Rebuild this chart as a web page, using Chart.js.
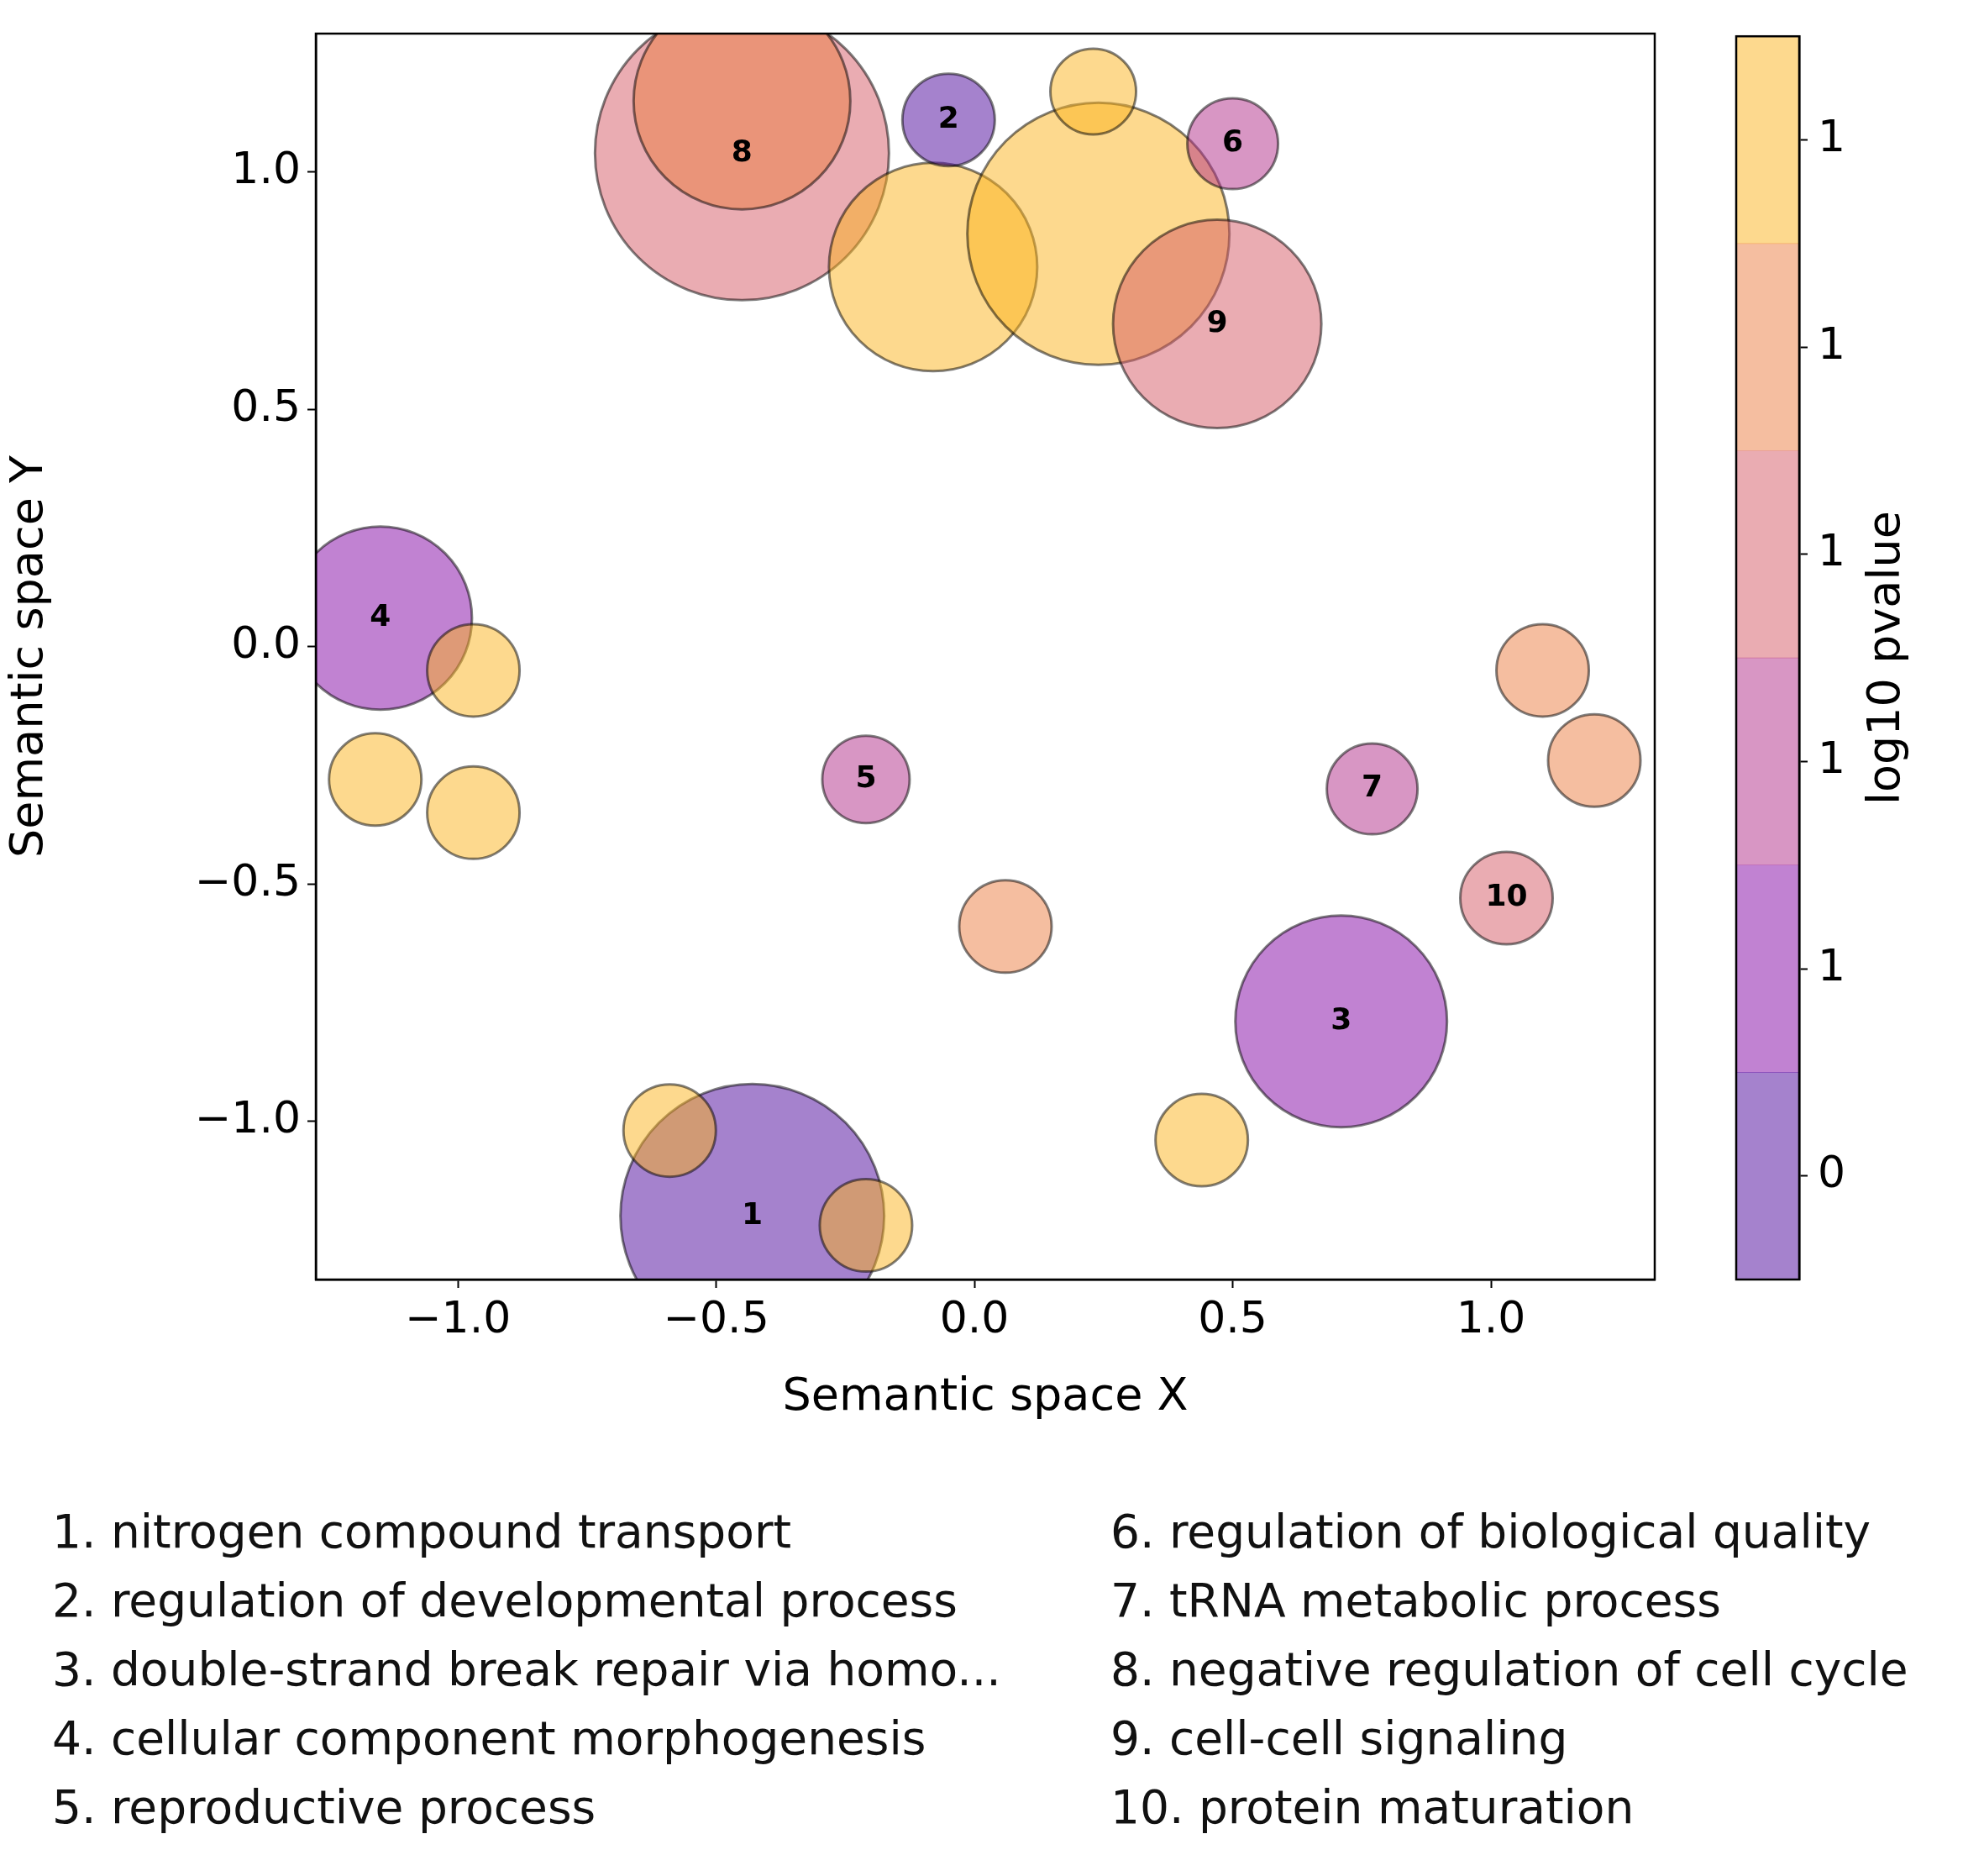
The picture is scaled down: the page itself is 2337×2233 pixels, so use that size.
<!DOCTYPE html>
<html><head><meta charset="utf-8">
<script src="https://cdn.jsdelivr.net/npm/chart.js@4"></script>
<style>
body{margin:0;background:#fff;width:2337px;height:2233px;position:relative;font-family:"DejaVu Sans";}
#c1{position:absolute;left:0;top:0;}
#c2{position:absolute;left:2000px;top:0;}
.leg{position:absolute;font-size:55px;line-height:82px;color:#111;white-space:pre;}
</style></head><body>
<canvas id="c1" width="2000" height="1700" style="width:2000px;height:1700px"></canvas>
<canvas id="c2" width="337" height="1700" style="width:337px;height:1700px"></canvas>
<div class="leg" style="left:62px;top:1782px">1. nitrogen compound transport
2. regulation of developmental process
3. double-strand break repair via homo...
4. cellular component morphogenesis
5. reproductive process</div>
<div class="leg" style="left:1322px;top:1782px">6. regulation of biological quality
7. tRNA metabolic process
8. negative regulation of cell cycle
9. cell-cell signaling
10. protein maturation</div>
<script>
const xs     = [-0.45,-0.45,-0.08,0.24,0.23,0.47,-1.15,-0.97,-1.16,-0.97,-0.21,0.5,0.77,1.1,1.2,0.06,1.03,0.71,-0.43,-0.59,-0.21,0.44,-0.05];
const ys     = [1.04,1.15,0.8,0.87,1.17,0.68,0.06,-0.05,-0.28,-0.35,-0.28,1.06,-0.3,-0.05,-0.24,-0.59,-0.53,-0.79,-1.2,-1.02,-1.22,-1.04,1.11];
const sizes  = [175,129,124,156,51,124,109,55,55,55,52,54,54,55,55,55,55,126,157,55,55,55,55];
const levels = [3,4,5,5,5,3,1,5,5,5,2,2,2,4,4,4,3,1,0,5,5,5,0];
const labels = ["8","","","","","9","4","","","","5","6","7","","","","10","3","1","","","","2"];
const palette = ["rgba(75,5,155,0.5)","rgba(131,5,165,0.5)","rgba(177,45,137,0.5)","rgba(213,89,101,0.5)","rgba(235,125,65,0.5)","rgba(251,180,30,0.5)"];
const cbLabels = ["0","1","1","1","1","1"];

const pts = xs.map((x,i)=>({x:x,y:ys[i],r:sizes[i]}));
const labelPlugin={id:'lbl',afterDatasetsDraw(ch){
  const c=ch.ctx,xsS=ch.scales.x,ysS=ch.scales.y;
  c.save();c.font='bold 36px "DejaVu Sans"';c.fillStyle='#000';c.textAlign='center';c.textBaseline='middle';
  labels.forEach((l,i)=>{if(l)c.fillText(l,xsS.getPixelForValue(xs[i]),ysS.getPixelForValue(ys[i]));});
  c.restore();}};
const tickFont={family:'DejaVu Sans',size:52};
const frame={id:'frame',afterDraw(ch){const a=ch.chartArea,c=ch.ctx;c.save();c.strokeStyle='#000';c.lineWidth=2.5;c.strokeRect(a.left,a.top,a.right-a.left,a.bottom-a.top);c.restore();}};
new Chart(document.getElementById('c1'),{
  type:'bubble',
  data:{datasets:[{data:pts,backgroundColor:levels.map(l=>palette[l]),borderColor:'rgba(0,0,0,0.5)',borderWidth:3}]},
  options:{responsive:false,animation:false,clip:true,
    layout:{autoPadding:false,padding:{top:40,right:30,left:0,bottom:0}},
    plugins:{legend:{display:false},tooltip:{enabled:false}},
    scales:{
      x:{type:'linear',min:-1.275,max:1.317,afterFit(s){s.height=177;},
        afterBuildTicks(s){s.ticks=[-1,-0.5,0,0.5,1].map(v=>({value:v}));},
        ticks:{font:tickFont,color:'#000',callback:v=>v.toFixed(1).replace('-','\u2212'),maxRotation:0,padding:8},
        grid:{drawOnChartArea:false,tickLength:10,color:'#000',tickWidth:2},border:{color:'#000',width:2.5},
        title:{display:true,text:'Semantic space X',font:{family:'DejaVu Sans',size:54},color:'#000',padding:{top:6}}},
      y:{type:'linear',min:-1.334,max:1.292,afterFit(s){s.width=376;},
        afterBuildTicks(s){s.ticks=[-1,-0.5,0,0.5,1].map(v=>({value:v}));},
        ticks:{font:tickFont,color:'#000',callback:v=>v.toFixed(1).replace('-','\u2212'),padding:8},
        grid:{drawOnChartArea:false,tickLength:10,color:'#000',tickWidth:2},border:{color:'#000',width:2.5},
        title:{display:true,text:'Semantic space Y',font:{family:'DejaVu Sans',size:54},color:'#000',padding:{bottom:10}}}
    }},
  plugins:[labelPlugin,frame]
});
new Chart(document.getElementById('c2'),{
  type:'bar',
  data:{labels:['cb'],datasets:palette.map(p=>({data:[1],backgroundColor:p,barPercentage:1,categoryPercentage:1}))},
  options:{responsive:false,animation:false,
    layout:{autoPadding:false,padding:{top:40,bottom:177,left:67,right:0}},
    plugins:{legend:{display:false},tooltip:{enabled:false}},
    scales:{
      x:{stacked:true,display:false},
      y:{stacked:true,position:'right',min:0,max:6,afterFit(s){s.width=195;},
        afterBuildTicks(s){s.ticks=cbLabels.map((_,i)=>({value:i+0.5}));},
        ticks:{font:tickFont,color:'#000',callback:(v,i)=>cbLabels[i],padding:12},
        grid:{drawOnChartArea:false,tickLength:10,color:'#000',tickWidth:2},border:{color:'#000',width:2.5}}
    }},
  plugins:[frame,{id:'cbTitle',afterDraw(ch){const c=ch.ctx,a=ch.chartArea;c.save();c.font='54px "DejaVu Sans"';c.fillStyle='#000';
    c.translate(247,(a.top+a.bottom)/2);c.rotate(-Math.PI/2);c.textAlign='center';c.textBaseline='middle';c.fillText('log10 pvalue',0,0);c.restore();}}]
});
</script></body></html>
